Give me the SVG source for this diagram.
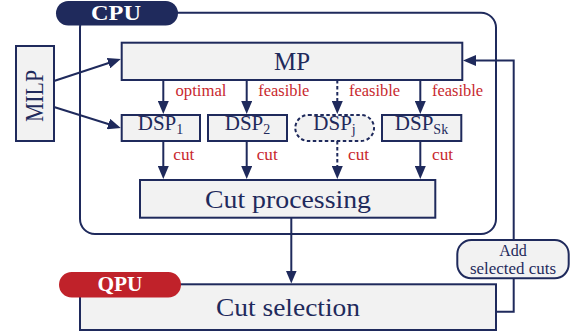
<svg xmlns="http://www.w3.org/2000/svg" width="578" height="335" viewBox="0 0 578 335">
<defs>
<style>
.box{fill:#f2f2f2;stroke:#1f2a5c;stroke-width:2}
.dash{stroke-dasharray:3.5 2.5}
.ln{fill:none;stroke:#1f2a5c;stroke-width:2}
.big{font-family:"Liberation Serif",serif;font-size:25px;fill:#1f2a5c;text-anchor:middle}
.dsp{font-family:"Liberation Serif",serif;font-size:21px;fill:#1f2a5c;text-anchor:middle}
.lbl{font-family:"Liberation Serif",serif;font-size:16px;fill:#c8282e}
.sm{font-family:"Liberation Serif",serif;font-size:16px;fill:#1f2a5c;text-anchor:middle}
.pill{font-family:"Liberation Serif",serif;font-size:21px;font-weight:bold;fill:#ffffff;text-anchor:middle}
</style>
<marker id="ah" viewBox="0 0 13 11" refX="9" refY="5.5" markerWidth="13" markerHeight="11" markerUnits="userSpaceOnUse" orient="auto">
<path d="M0,0 L13,5.5 L0,11 z" fill="#1f2a5c"/>
</marker>
</defs>

<g id="cpu">
<rect x="80" y="12.7" width="416" height="221.3" rx="15" fill="none" stroke="#1f2a5c" stroke-width="2"/>
<rect x="56" y="1" width="122" height="24.5" rx="12.25" fill="#1f2a5c"/>
<text class="pill" x="116" y="20" textLength="50" lengthAdjust="spacingAndGlyphs">CPU</text>
</g>

<g id="cut-selection">
<rect class="box" x="80" y="284.3" width="416" height="45.7"/>
<rect x="59" y="272" width="122" height="25.5" rx="12.75" fill="#c0222a"/>
<text class="pill" x="120" y="291" textLength="45" lengthAdjust="spacingAndGlyphs">QPU</text>
<text class="big" x="288" y="315.5" font-size="26" textLength="144" lengthAdjust="spacingAndGlyphs">Cut selection</text>
</g>

<g id="connectors">
<line class="ln" x1="54" y1="81" x2="117" y2="60.3" marker-end="url(#ah)"/>
<line class="ln" x1="54" y1="107" x2="117" y2="126.7" marker-end="url(#ah)"/>
<line class="ln" x1="163.3" y1="80" x2="163.3" y2="110" marker-end="url(#ah)"/>
<line class="ln" x1="246.7" y1="80" x2="246.7" y2="110" marker-end="url(#ah)"/>
<line class="ln dash" x1="337.3" y1="80" x2="337.3" y2="110" marker-end="url(#ah)"/>
<line class="ln" x1="420.3" y1="80" x2="420.3" y2="110" marker-end="url(#ah)"/>
<line class="ln" x1="163.3" y1="141" x2="163.3" y2="175" marker-end="url(#ah)"/>
<line class="ln" x1="246.7" y1="141" x2="246.7" y2="175" marker-end="url(#ah)"/>
<line class="ln dash" x1="337.3" y1="141" x2="337.3" y2="175" marker-end="url(#ah)"/>
<line class="ln" x1="420.3" y1="141" x2="420.3" y2="175" marker-end="url(#ah)"/>
<line class="ln" x1="291.3" y1="218" x2="291.3" y2="279.5" marker-end="url(#ah)"/>
<path class="ln" d="M496,311.7 H513.7 V60.5 H467" marker-end="url(#ah)"/>
<text class="lbl" x="175.5" y="95.5" textLength="51" lengthAdjust="spacingAndGlyphs">optimal</text>
<text class="lbl" x="258.3" y="95.5" textLength="51" lengthAdjust="spacingAndGlyphs">feasible</text>
<text class="lbl" x="349" y="95.5" textLength="51" lengthAdjust="spacingAndGlyphs">feasible</text>
<text class="lbl" x="432" y="95.5" textLength="51" lengthAdjust="spacingAndGlyphs">feasible</text>
<text class="lbl" x="173.3" y="159.5" textLength="21" lengthAdjust="spacingAndGlyphs">cut</text>
<text class="lbl" x="256.7" y="159.5" textLength="21" lengthAdjust="spacingAndGlyphs">cut</text>
<text class="lbl" x="348" y="159.5" textLength="21" lengthAdjust="spacingAndGlyphs">cut</text>
<text class="lbl" x="432" y="159.5" textLength="21" lengthAdjust="spacingAndGlyphs">cut</text>
</g>

<g id="milp">
<rect class="box" x="16" y="46" width="38" height="95"/>
<text class="big" transform="translate(43.3,96) rotate(-90)" font-size="23" textLength="52" lengthAdjust="spacingAndGlyphs">MILP</text>
</g>

<g id="mp">
<rect class="box" x="121.7" y="42.7" width="340.6" height="37.3"/>
<text class="big" x="292" y="70" textLength="36" lengthAdjust="spacingAndGlyphs">MP</text>
</g>

<g id="dsp1">
<rect class="box" x="121.7" y="115" width="78.3" height="26"/>
<text class="dsp" x="160.5" y="129.5">DSP<tspan font-size="14" dy="4">1</tspan></text>
</g>

<g id="dsp2">
<rect class="box" x="208" y="115" width="79" height="26"/>
<text class="dsp" x="247.5" y="129.5">DSP<tspan font-size="14" dy="4">2</tspan></text>
</g>

<g id="dspj">
<rect class="box dash" x="295.3" y="115" width="78.7" height="26" rx="13"/>
<text class="dsp" x="334.5" y="129.5" fill="#33406e">DSP<tspan font-size="14" dy="4">j</tspan></text>
</g>

<g id="dspsk">
<rect class="box" x="382" y="115" width="79.3" height="26"/>
<text class="dsp" x="421.5" y="129.5">DSP<tspan font-size="14" dy="4">Sk</tspan></text>
</g>

<g id="cut-processing">
<rect class="box" x="140" y="180" width="295.3" height="37.7"/>
<text class="big" x="288" y="208" font-size="26" textLength="166" lengthAdjust="spacingAndGlyphs">Cut processing</text>
</g>

<g id="add-selected-cuts">
<rect class="box" x="457.3" y="240" width="111.4" height="38.3" rx="14"/>
<text class="sm" x="513" y="255.5">Add</text>
<text class="sm" x="513" y="274" textLength="86" lengthAdjust="spacingAndGlyphs">selected cuts</text>
</g>
</svg>
